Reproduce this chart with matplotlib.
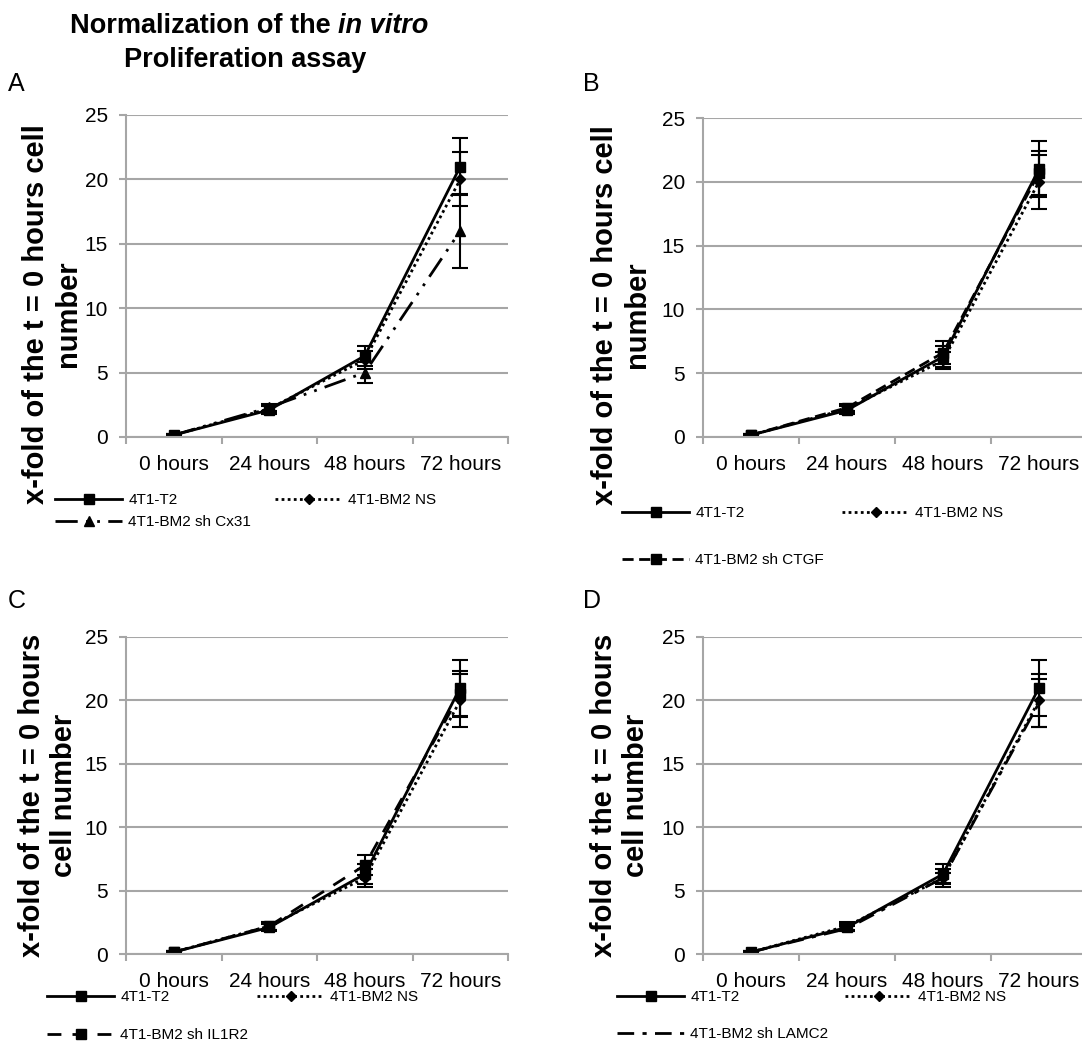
import matplotlib
matplotlib.use("Agg")
import matplotlib.pyplot as plt
from matplotlib.lines import Line2D

plt.rcParams["font.family"] = ["Liberation Sans", "DejaVu Sans"]

W, H = 1082, 1041

# ---- data ----
timepoints = ["0 hours", "24 hours", "48 hours", "72 hours"]

t2_mean = [0.15, 2.1, 6.3, 21.0]
t2_err = [0.05, 0.3, 0.8, 2.2]
ns_mean = [0.15, 2.2, 6.0, 20.0]
ns_err = [0.05, 0.3, 0.7, 2.1]

cx31_mean = [0.15, 2.3, 5.0, 16.0]
cx31_err = [0.05, 0.3, 0.8, 2.9]
ctgf_mean = [0.15, 2.3, 6.6, 20.7]
ctgf_err = [0.05, 0.3, 0.9, 1.7]
il1r2_mean = [0.15, 2.2, 7.0, 20.5]
il1r2_err = [0.05, 0.3, 0.8, 1.8]
lamc2_mean = [0.15, 2.0, 6.0, 19.8]
lamc2_err = [0.05, 0.2, 0.4, 1.9]

GRID = "#a6a6a6"


def fx(px):
    return px / W


def fy(py):
    return 1 - py / H


def add_panel(box):
    left, top, right, bottom = box
    ax = fig.add_axes([fx(left), fy(bottom), fx(right) - fx(left), fy(top) - fy(bottom)])
    ax.set_xlim(-0.5, 3.5)
    ax.set_ylim(0, 25)
    ax.set_yticks([0, 5, 10, 15, 20, 25])
    ax.yaxis.grid(True, color=GRID, linewidth=1.5)
    ax.set_axisbelow(True)
    for s in ["top", "right"]:
        ax.spines[s].set_visible(False)
    for s in ["left", "bottom"]:
        ax.spines[s].set_color(GRID)
        ax.spines[s].set_linewidth(1.5)
    ax.set_xticks(range(4))
    ax.set_xticklabels(timepoints)
    ax.set_xticks([-0.5, 0.5, 1.5, 2.5, 3.5], minor=True)
    ax.tick_params(axis="x", which="major", length=0, labelsize=15, pad=13)
    ax.tick_params(axis="x", which="minor", length=5, width=1.5, color=GRID, direction="out")
    ax.tick_params(axis="y", length=5, width=1.5, color=GRID, labelsize=15, pad=8)
    return ax


def series(ax, mean, err, **kw):
    ax.errorbar(range(4), mean, yerr=err, color="black", linewidth=2,
                ecolor="black", elinewidth=1.5, capsize=6, capthick=1.5,
                markeredgecolor="black", markerfacecolor="black", **kw)


def legend_entry(x, y, handle, label):
    fig.legend([handle], [label], loc="center left",
               bbox_to_anchor=(fx(x), fy(y)), bbox_transform=fig.transFigure,
               frameon=False, fontsize=11, borderpad=0, borderaxespad=0,
               handlelength=4.4, handletextpad=0.4)


st_t2 = dict(linestyle="-", marker="s", markersize=7)
st_ns = dict(linestyle=(0, (1, 1.2)), marker="D", markersize=5)
st_cx31 = dict(linestyle=(0, (8, 3, 1, 3, 1, 3)), marker="^", markersize=7)
st_ctgf = dict(linestyle=(0, (4, 2)), marker="s", markersize=7)
st_il1r2 = dict(linestyle=(0, (5, 4)), marker="s", markersize=7)
st_lamc2 = dict(linestyle=(0, (6, 3, 1.5, 3)), marker=None)


def handle(st):
    return Line2D([], [], color="black", linewidth=2, markerfacecolor="black",
                  markeredgecolor="black", **st)


fig = plt.figure(figsize=(W / 100, H / 100), dpi=100)

panels = [
    dict(box=(126, 115, 508, 437), letter="A", letter_xy=(8, 91),
         ylabel="x-fold of the t = 0 hours cell\nnumber", ylabel_xy=(52, 314),
         extra=(cx31_mean, cx31_err, st_cx31, "4T1-BM2 sh Cx31"),
         leg=[(55, 500), (275, 500), (55, 522)]),
    dict(box=(703, 118, 1087, 437), letter="B", letter_xy=(583, 91),
         ylabel="x-fold of the t = 0 hours cell\nnumber", ylabel_xy=(621, 315),
         extra=(ctgf_mean, ctgf_err, st_ctgf, "4T1-BM2 sh CTGF"),
         leg=[(622, 513), (842, 513), (622, 560)]),
    dict(box=(126, 637, 508, 954), letter="C", letter_xy=(8, 608),
         ylabel="x-fold of the t = 0 hours\ncell number", ylabel_xy=(48, 795),
         extra=(il1r2_mean, il1r2_err, st_il1r2, "4T1-BM2 sh IL1R2"),
         leg=[(47, 997), (257, 997), (47, 1035)]),
    dict(box=(703, 637, 1087, 954), letter="D", letter_xy=(583, 608),
         ylabel="x-fold of the t = 0 hours\ncell number", ylabel_xy=(620, 795),
         extra=(lamc2_mean, lamc2_err, st_lamc2, "4T1-BM2 sh LAMC2"),
         leg=[(617, 997), (845, 997), (617, 1034)]),
]

for p in panels:
    ax = add_panel(p["box"])
    m, e, st, lab = p["extra"]
    series(ax, m, e, **st)
    series(ax, ns_mean, ns_err, **st_ns)
    series(ax, t2_mean, t2_err, **st_t2)

    fig.text(fx(p["letter_xy"][0]), fy(p["letter_xy"][1]), p["letter"],
             fontsize=18, va="baseline", ha="left")
    fig.text(fx(p["ylabel_xy"][0]), fy(p["ylabel_xy"][1]), p["ylabel"],
             fontsize=21, fontweight="bold", rotation=90, ha="center",
             va="center", multialignment="center", linespacing=1.15)

    (x1, y1), (x2, y2), (x3, y3) = p["leg"]
    legend_entry(x1, y1, handle(st_t2), "4T1-T2")
    legend_entry(x2, y2, handle(st_ns), "4T1-BM2 NS")
    legend_entry(x3, y3, handle(st), lab)

# title with italic part
fig.canvas.draw()
r = fig.canvas.get_renderer()
t1 = fig.text(0, fy(33), "Normalization of the ", fontsize=19.5,
              fontweight="bold", va="baseline", ha="left")
t2 = fig.text(0, fy(33), "in vitro", fontsize=19.5, fontweight="bold",
              style="italic", va="baseline", ha="left")
w1 = t1.get_window_extent(r).width
w2 = t2.get_window_extent(r).width
x0 = 249 - (w1 + w2) / 2
t1.set_x(fx(x0))
t2.set_x(fx(x0 + w1))
fig.text(fx(245), fy(67), "Proliferation assay", fontsize=19.5,
         fontweight="bold", va="baseline", ha="center")

fig.savefig("out.png", dpi=100, facecolor="white")
